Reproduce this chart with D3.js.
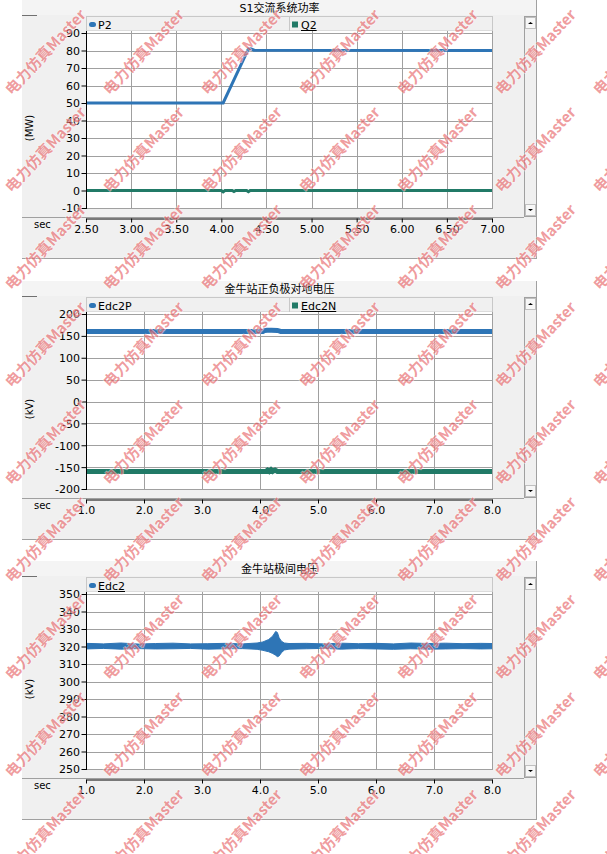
<!DOCTYPE html>
<html><head><meta charset="utf-8">
<script src="https://cdn.jsdelivr.net/npm/d3@7"></script>
<style>html,body{margin:0;padding:0;background:#fff;} svg{display:block}</style>
</head><body><svg id="c" width="607" height="854"></svg>
<script>
// ---------- Panel 1 : S1交流系统功率 ----------
const p1Title = "S1交流系统功率";
const p1YLabel = "(MW)";
const p1XTicks = [2.5, 3.0, 3.5, 4.0, 4.5, 5.0, 5.5, 6.0, 6.5, 7.0];
const p1YTicks = [90, 80, 70, 60, 50, 40, 30, 20, 10, 0, -10];
const p2Names = ["P2", "Q2"];
const pTimes = [2.50, 4.02, 4.30, 4.33, 4.36, 7.00];
const pValues = [50, 50, 80.9, 81.0, 80.2, 80];
const qTimes = [2.50, 4.00, 4.02, 4.04, 4.12, 4.14, 4.16, 4.28, 4.30, 4.32, 7.00];
const qValues = [0, 0, -0.8, 0, 0, -0.6, 0, 0, -0.7, 0, 0];

// ---------- Panel 2 : 金牛站正负极对地电压 ----------
const p2Title = "金牛站正负极对地电压";
const p2YLabel = "(kV)";
const p2XTicks = [1, 2, 3, 4, 5, 6, 7, 8];
const p2YTicks = [200, 150, 100, 50, 0, -50, -100, -150, -200];
const p2SeriesNames = ["Edc2P", "Edc2N"];
const posTimes = [1.0, 4.05, 4.08, 4.12, 4.20, 4.30, 4.34, 4.36, 8.0];
const posValues = [160, 160, 162, 163, 163, 162.5, 161, 160, 160];
const negTimes = [1.0, 4.10, 4.13, 4.16, 4.19, 4.22, 4.26, 4.30, 4.34, 8.0];
const negValues = [-160, -160, -157, -160, -156, -160, -157, -160, -160, -160];

// ---------- Panel 3 : 金牛站极间电压 ----------
const p3Title = "金牛站极间电压";
const p3YLabel = "(kV)";
const p3XTicks = [1, 2, 3, 4, 5, 6, 7, 8];
const p3YTicks = [350, 340, 330, 320, 310, 300, 290, 280, 270, 260, 250];
const p3SeriesNames = ["Edc2"];
const edcTimes = [1.0, 1.3, 1.6, 1.9, 2.2, 2.5, 2.8, 3.1, 3.4, 3.7, 3.95, 4.05, 4.15, 4.22, 4.27, 4.30, 4.33, 4.37, 4.42, 4.50, 4.8, 5.1, 5.4, 5.7, 6.0, 6.3, 6.6, 6.9, 7.2, 7.5, 7.8, 8.0];
const edcUpper = [321.8, 321.5, 322.0, 321.4, 321.7, 321.9, 321.5, 321.6, 321.8, 321.5, 322.0, 322.6, 324.0, 326.0, 328.6, 328.0, 325.0, 323.0, 322.0, 321.7, 321.8, 321.5, 321.9, 321.6, 321.8, 321.5, 322.0, 321.7, 321.9, 321.6, 321.8, 321.7];
const edcLower = [318.6, 318.9, 318.5, 318.8, 318.6, 318.7, 318.9, 318.5, 318.7, 318.8, 318.4, 317.8, 317.0, 316.0, 315.0, 314.2, 314.6, 316.5, 318.0, 318.5, 318.7, 318.9, 318.5, 318.8, 318.6, 318.4, 318.7, 318.5, 318.6, 318.8, 318.6, 318.7];

const watermarkText = "电力仿真Master";

// ---------- drawing ----------
const BLUE = "#2e75b6", GREEN = "#217a67", GRID = "#a0a0a0";
const FONT = "'DejaVu Sans','Noto Sans CJK SC',sans-serif";
const svg = d3.select("#c");
const L = 22, R = 537, X0 = 86, X1 = 492;

function zipT(t, v) { return t.map((d, i) => [d, v[i]]); }

function panel(cfg) {
  const top = cfg.top;
  const g = svg.append("g");
  const x = d3.scaleLinear().domain(cfg.xDomain).range([X0, X1]);
  const y = d3.scaleLinear().domain(cfg.yDomain).range([top + 208, top + 33]);

  g.append("rect").attr("x", L).attr("y", top).attr("width", R - L).attr("height", 258).attr("fill", "#f0f0f0");
  g.append("rect").attr("x", L).attr("y", top).attr("width", R - L).attr("height", 15).attr("fill", "#f4f4f4");
  g.append("line").attr("x1", L).attr("x2", L + 15).attr("y1", top + 15.5).attr("y2", top + 15.5).attr("stroke", "#707070");
  g.append("line").attr("x1", R - 0.5).attr("x2", R - 0.5).attr("y1", top).attr("y2", top + 258).attr("stroke", "#a0a0a0");
  g.append("line").attr("x1", L).attr("x2", R).attr("y1", top + 258.5).attr("y2", top + 258.5).attr("stroke", "#a0a0a0");
  g.append("text").attr("x", 279.5).attr("y", top + 12).attr("text-anchor", "middle")
    .attr("font-family", FONT).attr("font-size", 11).text(cfg.title);

  // legend
  g.append("rect").attr("x", X0 + 0.5).attr("y", top + 16.5).attr("width", X1 - X0).attr("height", 14.5)
    .attr("fill", "#f0f0f0").attr("stroke", "#c8c8c8");
  cfg.names.forEach((n, i) => {
    const lx = i === 0 ? 89 : 292;
    if (i > 0) g.append("line").attr("x1", 289.5).attr("x2", 289.5).attr("y1", top + 16).attr("y2", top + 31).attr("stroke", "#c8c8c8");
    if (i === 0) g.append("rect").attr("x", lx).attr("y", top + 22).attr("width", 7).attr("height", 5).attr("rx", 2.5).attr("fill", BLUE);
    else g.append("rect").attr("x", lx).attr("y", top + 21.5).attr("width", 6).attr("height", 6).attr("fill", GREEN);
    const t = g.append("text").attr("x", lx + 9).attr("y", top + 29).attr("font-family", FONT).attr("font-size", 11).text(n);
    if (cfg.underline.includes(i)) t.attr("text-decoration", "underline");
  });

  // plot area
  g.append("rect").attr("x", X0).attr("y", top + 31).attr("width", X1 - X0).attr("height", 178).attr("fill", "#fff");
  const grid = g.append("g").attr("stroke", GRID).attr("stroke-width", 1);
  cfg.yTicks.forEach(v => grid.append("line").attr("x1", X0).attr("x2", X1)
    .attr("y1", Math.round(y(v)) + 0.5).attr("y2", Math.round(y(v)) + 0.5));
  cfg.xTicks.forEach(v => grid.append("line").attr("y1", top + 31).attr("y2", top + 209)
    .attr("x1", Math.round(x(v)) + 0.5).attr("x2", Math.round(x(v)) + 0.5));

  // scrollbar
  g.append("rect").attr("x", 524.5).attr("y", top + 16.5).attr("width", 12).attr("height", 200).attr("fill", "#f0f0f0").attr("stroke", "#a0a0a0");
  g.append("rect").attr("x", 525.5).attr("y", top + 17.5).attr("width", 10).attr("height", 11).attr("fill", "#f7f7f7").attr("stroke", "#c0c0c0");
  g.append("rect").attr("x", 525.5).attr("y", top + 204.5).attr("width", 10).attr("height", 11).attr("fill", "#f7f7f7").attr("stroke", "#c0c0c0");
  g.append("path").attr("d", `M528,${top + 24}h5l-2.5,-2z`).attr("fill", "#000");
  g.append("path").attr("d", `M528,${top + 209}h5l-2.5,2z`).attr("fill", "#000");

  // separator line
  g.append("line").attr("x1", L).attr("x2", 524).attr("y1", top + 217.5).attr("y2", top + 217.5).attr("stroke", GRID);

  // data clip
  const cid = "clip" + top;
  g.append("clipPath").attr("id", cid).append("rect").attr("x", X0).attr("y", top + 31).attr("width", X1 - X0).attr("height", 178);
  const dg = g.append("g").attr("clip-path", `url(#${cid})`);
  cfg.draw(dg, x, y);

  // axes
  const ay = d3.axisLeft(y).tickValues(cfg.yTicks).tickSize(5).tickSizeOuter(0).tickFormat(d => String(d));
  const gy = g.append("g").attr("transform", `translate(${X0 + 0.5},0)`).call(ay);
  gy.select(".domain").remove();
  gy.selectAll("text").attr("font-family", FONT).attr("font-size", 11).attr("fill", "#000").attr("x", -6.5).attr("dy", "0.36em");
  gy.selectAll("line").attr("stroke", "#000");
  g.append("line").attr("x1", X0 + 0.5).attr("x2", X0 + 0.5).attr("y1", top + 31).attr("y2", top + 209).attr("stroke", "#000");

  const ax = d3.axisBottom(x).tickValues(cfg.xTicks).tickSize(4).tickSizeOuter(0).tickFormat(d => d.toFixed(cfg.dec));
  const gx = g.append("g").attr("transform", `translate(0,${top + 218.5})`).call(ax);
  gx.select(".domain").attr("stroke", "#000");
  gx.selectAll("line").attr("stroke", "#000");
  gx.selectAll("text").attr("font-family", FONT).attr("font-size", 11).attr("fill", "#000").attr("y", 6).attr("dy", "0.75em");

  g.append("text").attr("x", 34).attr("y", top + 228).attr("font-family", FONT).attr("font-size", 10).text("sec");
  g.append("text").attr("transform", `translate(33,${top + 128}) rotate(-90)`).attr("text-anchor", "middle")
    .attr("font-family", FONT).attr("font-size", 10).text(cfg.yLabel);
}

const line = (x, y) => d3.line().x(d => x(d[0])).y(d => y(d[1]));

panel({
  top: 0, title: p1Title, yLabel: p1YLabel, names: p2Names, underline: [1],
  xDomain: [2.5, 7], yDomain: [-10, 90], xTicks: p1XTicks, yTicks: p1YTicks, dec: 2,
  draw: (g, x, y) => {
    g.append("path").attr("d", line(x, y)(zipT(qTimes, qValues))).attr("fill", "none").attr("stroke", GREEN).attr("stroke-width", 3);
    g.append("path").attr("d", line(x, y)(zipT(pTimes, pValues))).attr("fill", "none").attr("stroke", BLUE).attr("stroke-width", 3);
  }
});

panel({
  top: 281, title: p2Title, yLabel: p2YLabel, names: p2SeriesNames, underline: [1],
  xDomain: [1, 8], yDomain: [-200, 200], xTicks: p2XTicks, yTicks: p2YTicks, dec: 1,
  draw: (g, x, y) => {
    g.append("path").attr("d", line(x, y)(zipT(negTimes, negValues))).attr("fill", "none").attr("stroke", GREEN).attr("stroke-width", 5);
    g.append("path").attr("d", line(x, y)(zipT(posTimes, posValues))).attr("fill", "none").attr("stroke", BLUE).attr("stroke-width", 5);
  }
});

panel({
  top: 561, title: p3Title, yLabel: p3YLabel, names: p3SeriesNames, underline: [0],
  xDomain: [1, 8], yDomain: [250, 350], xTicks: p3XTicks, yTicks: p3YTicks, dec: 1,
  draw: (g, x, y) => {
    const area = d3.area().x((d, i) => x(edcTimes[i])).y0((d, i) => y(edcLower[i])).y1((d, i) => y(edcUpper[i]));
    g.append("path").attr("d", area(edcTimes)).attr("fill", BLUE).attr("stroke", BLUE).attr("stroke-width", 1);
  }
});

// watermark grid
const wm = svg.append("g").attr("pointer-events", "none");
for (let j = 0; j < 9; j++) {
  for (let i = 0; i < 7; i++) {
    const wx = 12 + 98 * i, wy = 96 + 97.5 * j;
    wm.append("text").attr("transform", `translate(${wx},${wy}) rotate(-47)`)
      .attr("font-family", "'Noto Sans CJK SC',sans-serif").attr("font-weight", "bold").attr("font-size", 15)
      .attr("fill", "#e2474b").attr("fill-opacity", 0.55)
      .attr("stroke", "#fff").attr("stroke-opacity", 0.5).attr("stroke-width", 1.2).attr("paint-order", "stroke")
      .text(watermarkText);
  }
}
</script></body></html>
